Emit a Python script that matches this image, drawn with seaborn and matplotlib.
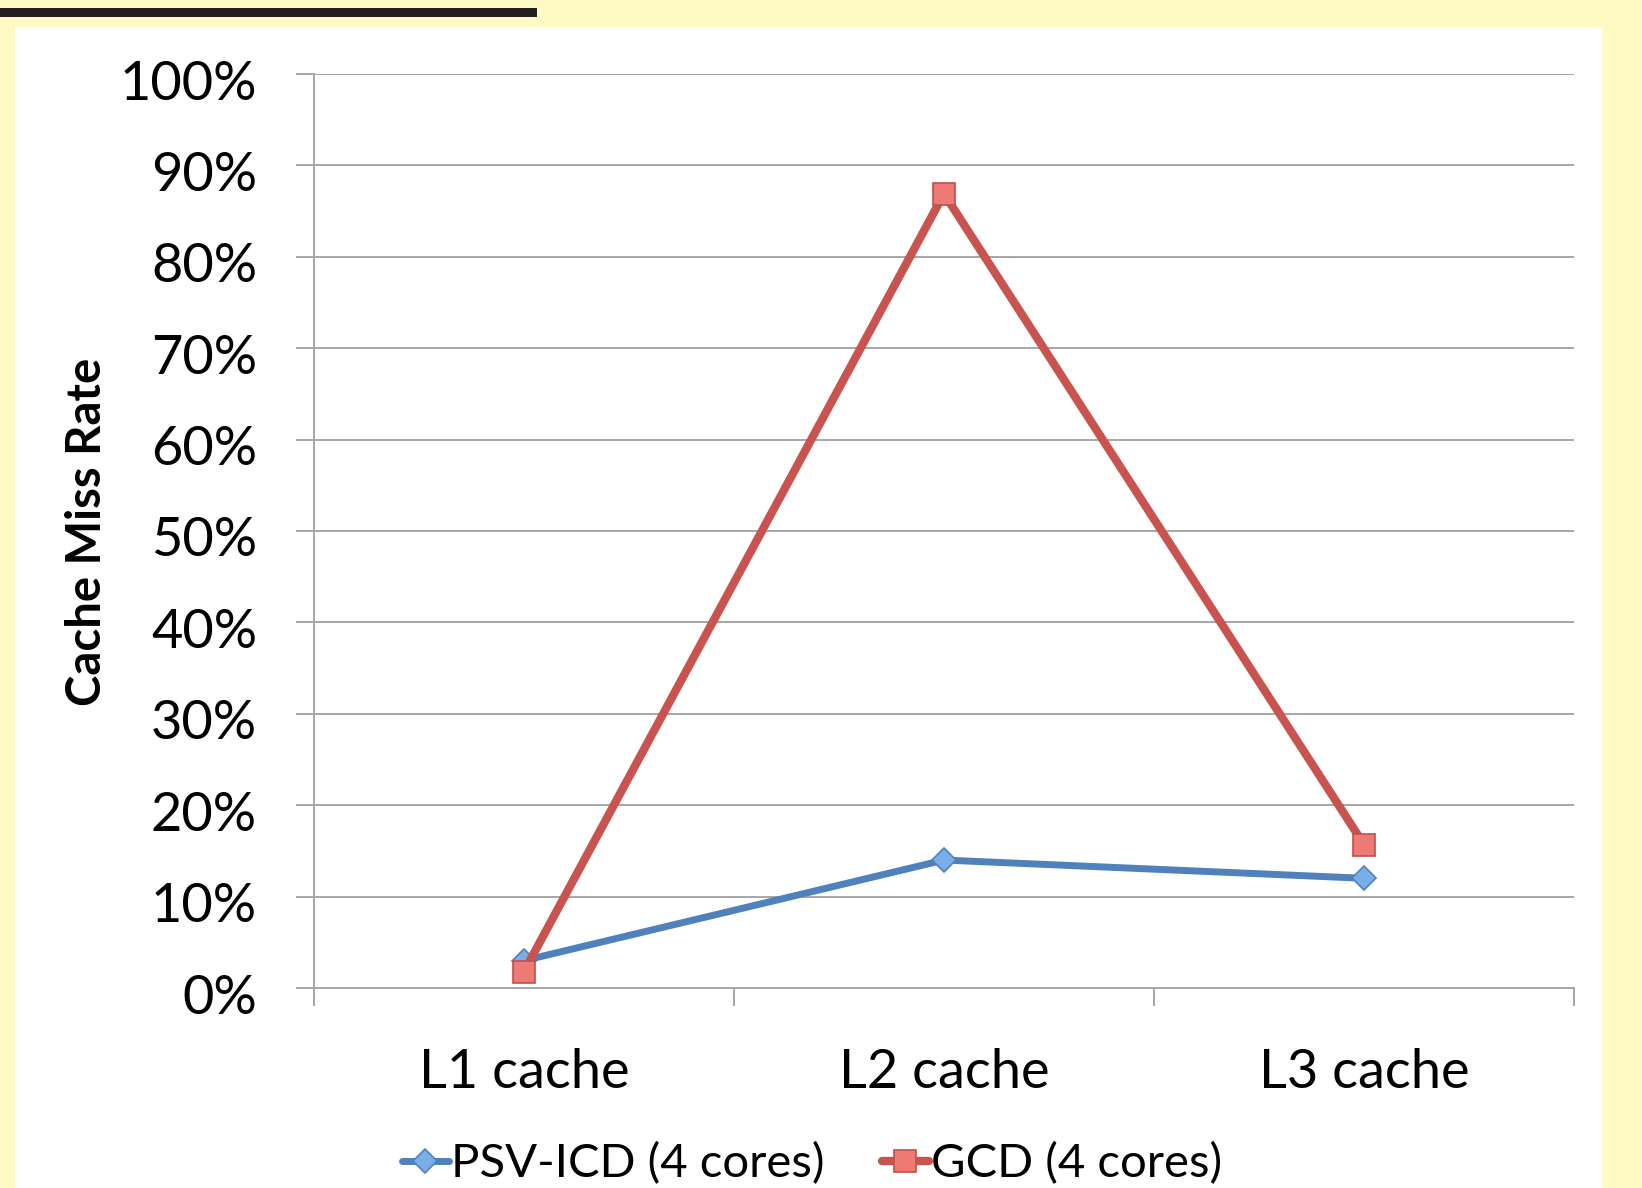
import matplotlib
matplotlib.use("Agg")
import matplotlib.pyplot as plt
from matplotlib.patches import Rectangle
from matplotlib.ticker import FuncFormatter, FixedLocator
from matplotlib.transforms import ScaledTranslation
import seaborn as sns
import pandas as pd

levels = ["L1 cache", "L2 cache", "L3 cache"]
psv_icd = [3.0, 14.0, 12.0]
gcd = [1.8, 86.9, 15.7]
series_names = ["PSV-ICD (4 cores)", "GCD (4 cores)"]
y_ticks = [0, 10, 20, 30, 40, 50, 60, 70, 80, 90, 100]

df = pd.DataFrame({
    "level": levels * 2,
    "rate": psv_icd + gcd,
    "series": [series_names[0]] * 3 + [series_names[1]] * 3,
})

sns.set_theme(style="white")
plt.rcParams["font.family"] = ["Lato", "DejaVu Sans"]
plt.rcParams["text.color"] = "black"

W, H = 1642, 1188
fig = plt.figure(figsize=(W / 100, H / 100), dpi=100)
fig.patch.set_facecolor("#FFF9C4")
fig.patches.append(Rectangle((15 / W, 0), (1602 - 15) / W, 1 - 27 / H,
                             transform=fig.transFigure, facecolor="white",
                             edgecolor="none", zorder=-10))
fig.patches.append(Rectangle((0, 1 - 17 / H), 537 / W, 9 / H,
                             transform=fig.transFigure, facecolor="#231F20",
                             edgecolor="none", zorder=-10))

ax = fig.add_axes([314 / W, 1 - 988 / H, (1574 - 314) / W, (988 - 74) / H])
ax.set_zorder(5)
ax.set_facecolor("none")

styles = {
    series_names[0]: dict(color="#4F81BD", marker="D", markersize=12,
                          markerfacecolor="#7AAEE8", markeredgecolor="#4F81BD",
                          markeredgewidth=1.2, linewidth=5.0),
    series_names[1]: dict(color="#C9544F", marker="s", markersize=16.5,
                          markerfacecolor="#EE7A75", markeredgecolor="#C0504D",
                          markeredgewidth=1.2, linewidth=6.0),
}
for name in series_names:
    sub = df[df["series"] == name]
    sns.lineplot(data=sub, x="level", y="rate", ax=ax, label=name,
                 sort=False, **styles[name])

grid_c = "#A6A6A6"
ax.set_ylim(0, 100)
ax.set_xlim(-0.5, 2.5)
ax.set_yticks(y_ticks)
ax.yaxis.set_major_formatter(FuncFormatter(lambda v, p: f"{v:.0f}%"))
ax.grid(axis="y", color=grid_c, linewidth=1.4)
ax.set_axisbelow(True)
for s in ["top", "right"]:
    ax.spines[s].set_visible(False)
for s in ["left", "bottom"]:
    ax.spines[s].set_color(grid_c)
    ax.spines[s].set_linewidth(1.4)

ax.tick_params(axis="y", which="major", length=13, width=1.4, color=grid_c,
               pad=28, labelsize=39, labelcolor="black", left=True)
ax.tick_params(axis="x", which="major", length=0, pad=43, labelsize=39,
               labelcolor="black")
ax.xaxis.set_minor_locator(FixedLocator([-0.5, 0.5, 1.5, 2.5]))
ax.tick_params(axis="x", which="minor", length=13, width=1.4, color=grid_c,
               direction="out", bottom=True)
ax.set_xlabel("")
ax.set_ylabel("")
shift = ScaledTranslation(0, -0.055, fig.dpi_scale_trans)
for lab in ax.get_yticklabels():
    lab.set_transform(lab.get_transform() + shift)

fig.text(87 / W, 1 - 532 / H, "Cache Miss Rate", rotation=90, ha="center",
         va="center", fontsize=34, fontweight="bold", color="black")

ax.get_legend().remove()
handles, labels = ax.get_legend_handles_labels()
leg = fig.legend(handles, labels, loc="center", bbox_to_anchor=(812 / W, 1 - 1164 / H),
                 ncol=2, frameon=False, fontsize=34, handlelength=1.0,
                 handletextpad=0.05, columnspacing=1.2, borderaxespad=0)
for t in leg.get_texts():
    t.set_color("black")

fig.savefig("out.png", dpi=100, facecolor=fig.get_facecolor())
